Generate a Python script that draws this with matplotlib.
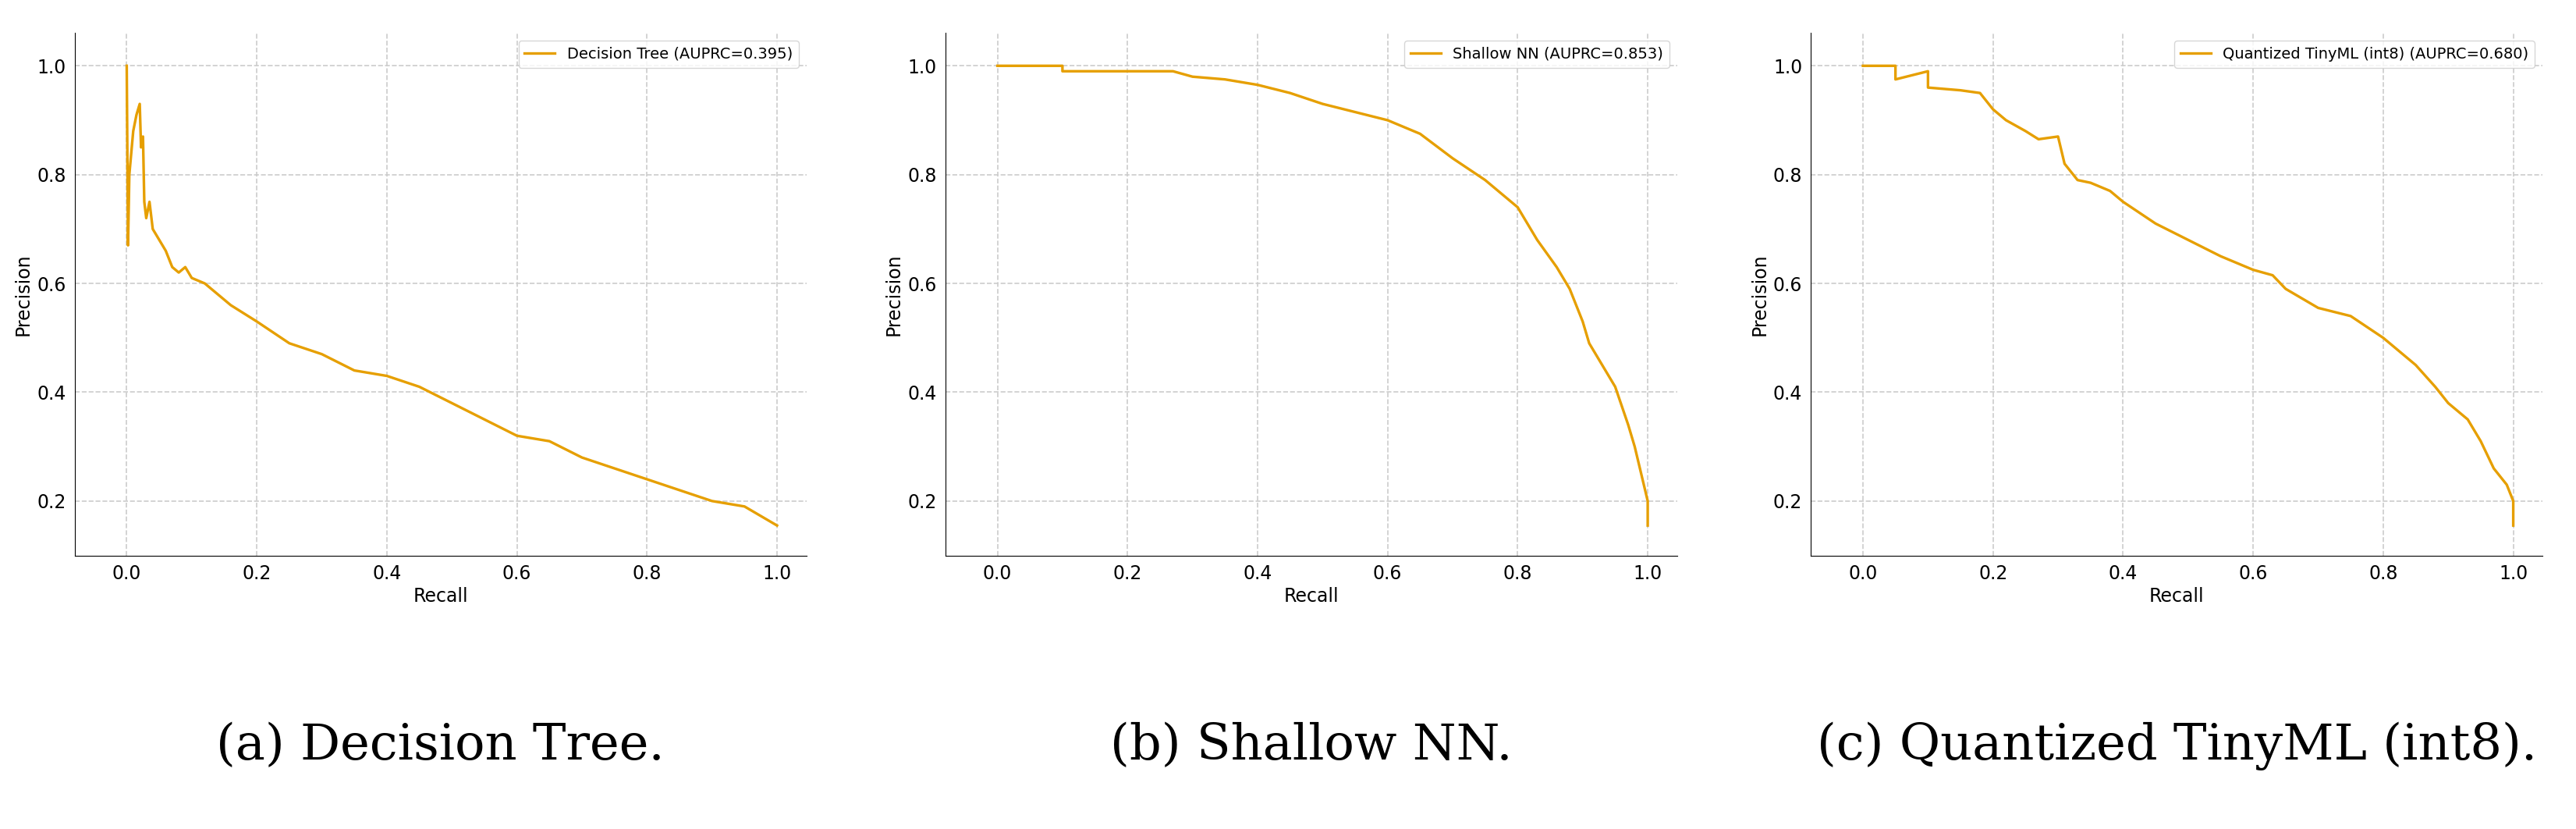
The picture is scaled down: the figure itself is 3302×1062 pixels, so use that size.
import matplotlib
matplotlib.use("Agg")
import matplotlib.pyplot as plt

dt_recall = [0, 0.002, 0.004, 0.01, 0.015, 0.02, 0.022, 0.025, 0.027, 0.03, 0.035, 0.04, 0.05, 0.06,
             0.07, 0.08, 0.09, 0.1, 0.12, 0.14, 0.16, 0.2, 0.25, 0.3, 0.35, 0.4, 0.45, 0.5, 0.55,
             0.6, 0.65, 0.7, 0.75, 0.8, 0.85, 0.9, 0.95, 1.0]
dt_precision = [1.0, 0.67, 0.8, 0.88, 0.91, 0.93, 0.85, 0.87, 0.75, 0.72, 0.75, 0.70, 0.68, 0.66,
                0.63, 0.62, 0.63, 0.61, 0.60, 0.58, 0.56, 0.53, 0.49, 0.47, 0.44, 0.43, 0.41, 0.38,
                0.35, 0.32, 0.31, 0.28, 0.26, 0.24, 0.22, 0.20, 0.19, 0.155]

nn_recall = [0, 0.1, 0.1, 0.2, 0.27, 0.3, 0.35, 0.4, 0.45, 0.5, 0.55, 0.6, 0.65, 0.7, 0.75, 0.8,
             0.83, 0.86, 0.88, 0.9, 0.91, 0.93, 0.95, 0.97, 0.98, 0.99, 1.0, 1.0]
nn_precision = [1.0, 1.0, 0.99, 0.99, 0.99, 0.98, 0.975, 0.965, 0.95, 0.93, 0.915, 0.9, 0.875, 0.83,
                0.79, 0.74, 0.68, 0.63, 0.59, 0.53, 0.49, 0.45, 0.41, 0.34, 0.30, 0.25, 0.2, 0.155]

q_recall = [0, 0.05, 0.05, 0.1, 0.1, 0.15, 0.18, 0.2, 0.22, 0.25, 0.27, 0.3, 0.31, 0.33, 0.35, 0.38,
            0.4, 0.45, 0.5, 0.55, 0.6, 0.63, 0.65, 0.7, 0.75, 0.8, 0.85, 0.88, 0.9, 0.93, 0.95,
            0.97, 0.99, 1.0, 1.0]
q_precision = [1.0, 1.0, 0.975, 0.99, 0.96, 0.955, 0.95, 0.92, 0.9, 0.88, 0.865, 0.87, 0.82, 0.79,
               0.785, 0.77, 0.75, 0.71, 0.68, 0.65, 0.625, 0.615, 0.59, 0.555, 0.54, 0.5, 0.45,
               0.41, 0.38, 0.35, 0.31, 0.26, 0.23, 0.2, 0.155]

labels = ["Decision Tree (AUPRC=0.395)", "Shallow NN (AUPRC=0.853)",
          "Quantized TinyML (int8) (AUPRC=0.680)"]
captions = ["(a) Decision Tree.", "(b) Shallow NN.", "(c) Quantized TinyML (int8)."]
curves = [(dt_recall, dt_precision), (nn_recall, nn_precision), (q_recall, q_precision)]

fig = plt.figure(figsize=(33.02, 10.62), dpi=100)
lefts = [0.029, 0.367, 0.703]
for i, (r, p) in enumerate(curves):
    ax = fig.add_axes([lefts[i], 0.33, 0.284, 0.63])
    ax.plot(r, p, color="#E69F00", lw=2.4, label=labels[i])
    ax.set_xlim(-0.08, 1.045)
    ax.set_ylim(0.1, 1.06)
    ax.set_xticks([0, 0.2, 0.4, 0.6, 0.8, 1.0])
    ax.set_yticks([0.2, 0.4, 0.6, 0.8, 1.0])
    ax.grid(True, ls="--", color="#cccccc", lw=1.2)
    for s in ["top", "right"]:
        ax.spines[s].set_visible(False)
    ax.tick_params(labelsize=17, length=0, pad=8)
    ax.set_xlabel("Recall", fontsize=17)
    ax.set_ylabel("Precision", fontsize=17)
    ax.legend(loc="upper right", fontsize=14)
    fig.text(lefts[i] + 0.142, 0.1, captions[i], ha="center", va="center",
             fontsize=46, family="DejaVu Serif")

fig.savefig("out.png", dpi=100)
